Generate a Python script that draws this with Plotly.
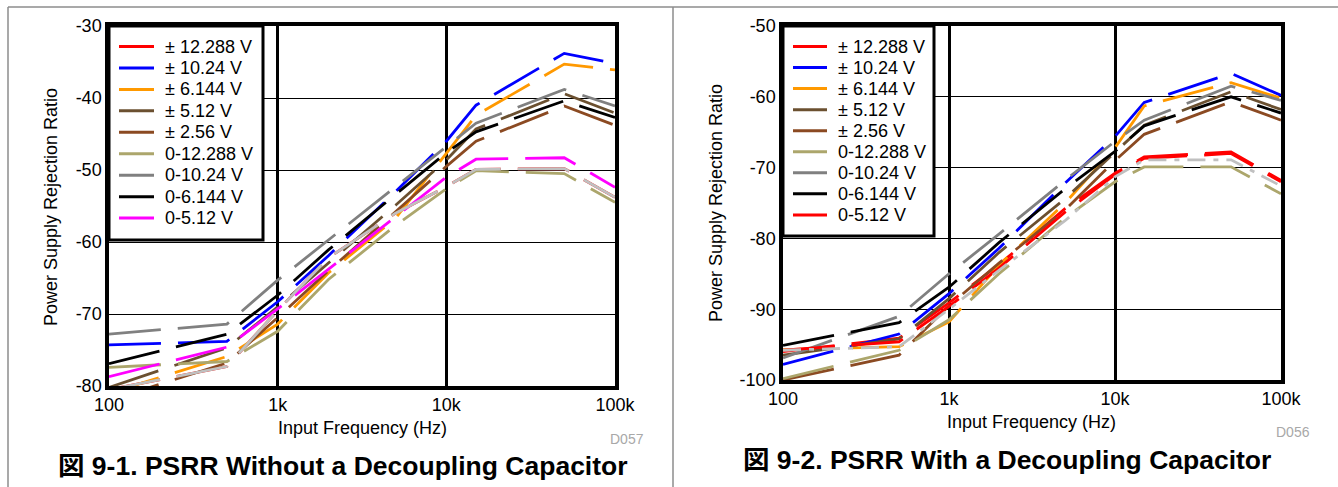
import plotly.graph_objects as go

W, H = 1338, 487

FREQ = [100, 500, 1000, 2000, 5000, 10000, 15000, 50000, 100000]

NAMES = ["± 12.288 V", "± 10.24 V", "± 6.144 V", "± 5.12 V", "± 2.56 V",
         "0-12.288 V", "0-10.24 V", "0-6.144 V", "0-5.12 V"]

X_TICKS = [100, 1000, 10000, 100000]
X_TICKTEXT = ["100", "1k", "10k", "100k"]
L_YTICKS = [-80, -70, -60, -50, -40, -30]
R_YTICKS = [-100, -90, -80, -70, -60, -50]

# Figure 9-1: PSRR without decoupling capacitor
L_PM12288 = [-80.5, -77.3, -69.5, -62.2, -56.0, -52.3, -49.9, -49.8, -53.8]
L_PM1024 = [-74.3, -73.8, -68.3, -61.9, -53.0, -46.0, -41.0, -33.8, -35.2]
L_PM6144 = [-81.0, -75.9, -71.4, -64.3, -56.7, -47.6, -42.4, -35.3, -36.1]
L_PM512 = [-80.2, -74.7, -69.0, -62.9, -54.9, -48.6, -44.3, -39.4, -42.1]
L_PM256 = [-82.0, -76.8, -70.5, -64.0, -55.8, -49.5, -46.0, -41.1, -43.8]
L_U12288 = [-77.4, -76.6, -72.4, -65.2, -57.7, -52.6, -50.1, -50.5, -54.5]
L_U1024 = [-72.8, -71.4, -65.3, -59.7, -52.3, -46.8, -43.5, -38.8, -41.1]
L_U6144 = [-76.9, -72.8, -67.4, -61.1, -53.4, -47.6, -44.7, -40.4, -42.7]
L_U512 = [-78.7, -74.6, -69.3, -63.8, -56.6, -51.0, -48.5, -48.3, -52.4]
L_EXTRA = [-80.5, -77.3, -69.5, -62.2, -56.0, -52.3, -49.9, -49.8, -53.8]

# Figure 9-2: PSRR with decoupling capacitor
R_PM12288 = [-96.0, -94.1, -89.1, -83.7, -75.8, -70.8, -68.5, -67.8, -71.8]
R_PM1024 = [-97.8, -93.5, -87.8, -81.4, -72.2, -65.6, -60.8, -56.7, -59.8]
R_PM6144 = [-95.7, -95.3, -91.8, -83.8, -75.0, -67.2, -61.3, -58.0, -60.2]
R_PM512 = [-96.5, -94.2, -88.5, -82.0, -74.4, -67.8, -64.0, -59.3, -61.8]
R_PM256 = [-100.0, -96.5, -89.5, -83.5, -76.0, -69.0, -65.3, -60.7, -63.3]
R_U12288 = [-99.8, -95.8, -91.5, -85.0, -77.1, -72.0, -69.9, -69.9, -73.7]
R_U1024 = [-96.9, -91.0, -85.0, -79.4, -71.8, -66.3, -63.3, -58.5, -60.5]
R_U6144 = [-95.1, -91.9, -86.9, -80.6, -73.0, -67.7, -64.1, -60.0, -62.3]
R_U512 = [-95.8, -94.6, -89.6, -84.2, -76.3, -71.0, -68.7, -68.0, -72.0]
R_EXTRA = [-95.8, -95.3, -90.0, -84.5, -77.5, -71.3, -68.9, -68.9, -72.6]

LEFT_COLORS = ["#ff0000", "#0000ff", "#ff9900", "#6b5030", "#8b4a22",
               "#aca66c", "#808080", "#000000", "#ff00ff"]
RIGHT_COLORS = ["#ff0000", "#0000ff", "#ff9900", "#6b5030", "#8b4a22",
                "#aca66c", "#808080", "#000000", "#ff0000"]

LEFT_SERIES = [L_PM12288, L_PM1024, L_PM6144, L_PM512, L_PM256,
               L_U12288, L_U1024, L_U6144, L_U512]
RIGHT_SERIES = [R_PM12288, R_PM1024, R_PM6144, R_PM512, R_PM256,
                R_U12288, R_U1024, R_U6144, R_U512]

FONT = "Liberation Sans, Arial, Noto Sans CJK JP, sans-serif"
DASH = "52px,17px"
LW = 2.8

fig = go.Figure()

for name, ys, col in zip(NAMES, LEFT_SERIES, LEFT_COLORS):
    fig.add_trace(go.Scatter(x=FREQ, y=ys, name=name, mode="lines", showlegend=False,
                             line=dict(color=col, width=LW, dash=DASH),
                             xaxis="x", yaxis="y"))
fig.add_trace(go.Scatter(x=FREQ, y=L_EXTRA, mode="lines", showlegend=False,
                         line=dict(color="#c0c0c0", width=LW, dash=DASH),
                         xaxis="x", yaxis="y"))

for name, ys, col in zip(NAMES, RIGHT_SERIES, RIGHT_COLORS):
    fig.add_trace(go.Scatter(x=FREQ, y=ys, name=name, mode="lines", showlegend=False,
                             line=dict(color=col, width=LW, dash=DASH),
                             xaxis="x2", yaxis="y2"))
fig.add_trace(go.Scatter(x=FREQ, y=R_EXTRA, mode="lines", showlegend=False,
                         line=dict(color="#c0c0c0", width=LW, dash="18px,8px,5px,8px"),
                         xaxis="x2", yaxis="y2"))


def px(x):
    return x / W


def py(y):
    return 1 - y / H


xcommon = dict(type="log", range=[2, 5], tickvals=X_TICKS, ticktext=X_TICKTEXT,
               showgrid=True, gridcolor="#000000", gridwidth=3, showline=True,
               linecolor="#000000", linewidth=3.5, mirror=True, ticks="",
               zeroline=False, automargin=False,
               tickfont=dict(family=FONT, size=18, color="#000000"))
ycommon = dict(showgrid=True, gridcolor="#000000", gridwidth=1,
               showline=True, linecolor="#000000", linewidth=3.5, mirror=True,
               ticks="", zeroline=False, automargin=False,
               tickfont=dict(family=FONT, size=18, color="#000000"))

fig.update_layout(
    width=W, height=H,
    margin=dict(l=0, r=0, t=0, b=0, pad=0, autoexpand=False),
    paper_bgcolor="#ffffff", plot_bgcolor="#ffffff",
    xaxis=dict(domain=[px(109), px(615)], anchor="y", **xcommon),
    yaxis=dict(domain=[py(386), py(26)], anchor="x", range=[-80, -30],
               tickvals=L_YTICKS, ticktext=[str(v) for v in L_YTICKS], **ycommon),
    xaxis2=dict(domain=[px(783), px(1281)], anchor="y2", **xcommon),
    yaxis2=dict(domain=[py(380), py(26)], anchor="x2", range=[-100, -50],
                tickvals=R_YTICKS, ticktext=[str(v) for v in R_YTICKS], **ycommon),
    showlegend=False,
)

ann = []
shapes = []


def text(x, y, s, size, color="#000000", angle=0, xanchor="center"):
    ann.append(dict(x=px(x), y=py(y), xref="paper", yref="paper", text=s,
                    showarrow=False, textangle=angle, xanchor=xanchor, yanchor="middle",
                    font=dict(family=FONT, size=size, color=color)))


text(362, 428, "Input Frequency (Hz)", 18)
text(51, 207, "Power Supply Rejection Ratio", 18, angle=-90)
text(1031, 422, "Input Frequency (Hz)", 18)
text(716, 203, "Power Supply Rejection Ratio", 18, angle=-90)
text(627, 439, "D057", 14, color="#a8a8a8")
text(1293, 432, "D056", 14, color="#a8a8a8")
text(343, 466, "<b>図 9-1. PSRR Without a Decoupling Capacitor</b>", 26.5)
text(1007, 460, "<b>図 9-2. PSRR With a Decoupling Capacitor</b>", 26.5)

# panel frames
for (x0, y0, x1, y1) in [(8, 7, 1338, 7), (8, 7, 8, 487), (673, 7, 673, 487)]:
    shapes.append(dict(type="line", xref="paper", yref="paper",
                       x0=px(x0), y0=py(y0), x1=px(x1), y1=py(y1),
                       line=dict(color="#8c8c8c", width=1.5)))


# legends (one boxed legend inside each plot)
def legend(box, line_x, text_x, y_first, step, colors):
    bx0, by0, bx1, by1 = box
    shapes.append(dict(type="rect", xref="paper", yref="paper", layer="above",
                       x0=px(bx0), y0=py(by0), x1=px(bx1), y1=py(by1),
                       fillcolor="#ffffff", line=dict(color="#000000", width=3)))
    for i, (name, col) in enumerate(zip(NAMES, colors)):
        yy = y_first + i * step
        shapes.append(dict(type="line", xref="paper", yref="paper", layer="above",
                           x0=px(line_x[0]), x1=px(line_x[1]), y0=py(yy), y1=py(yy),
                           line=dict(color=col, width=3)))
        text(text_x, yy, name, 18, xanchor="left")


legend((109, 26, 263, 240), (119, 154), 163, 46.5, 21.45, LEFT_COLORS)
legend((783, 26, 934, 236), (793, 827), 836, 46.5, 21.05, RIGHT_COLORS)

fig.update_layout(annotations=ann, shapes=shapes)

fig.write_html("out.html",
               config={"displayModeBar": False},
               post_script="document.body.style.margin='0px';document.body.style.overflow='hidden';")
